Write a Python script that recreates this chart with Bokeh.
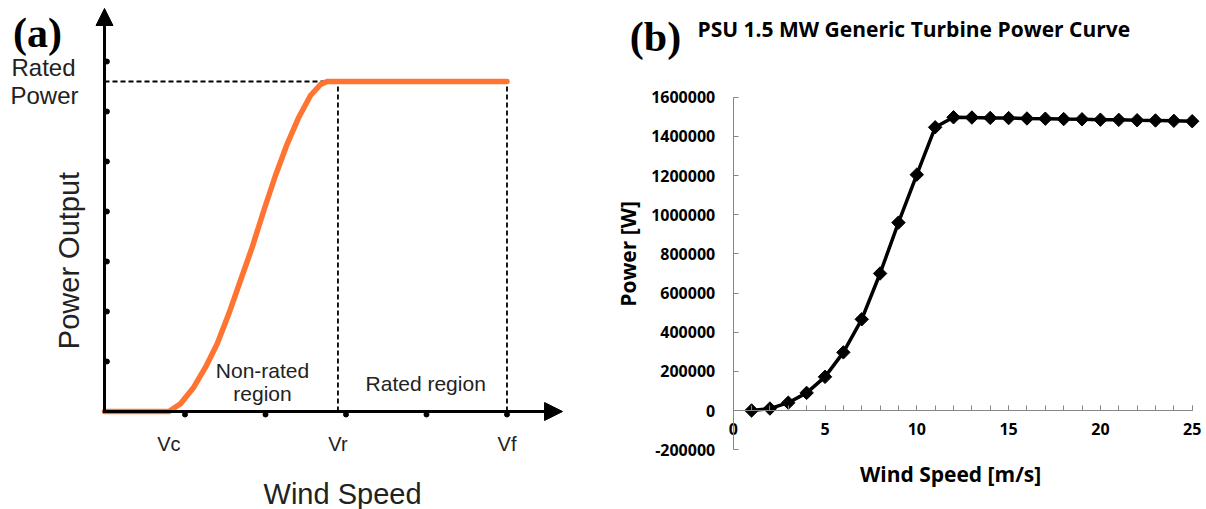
from math import pi
from bokeh.plotting import figure
from bokeh.models import (Range1d, Arrow, NormalHead, SingleIntervalTicker,
                          NumeralTickFormatter, LinearAxis)
from bokeh.core.properties import value
from bokeh.embed import file_html
from bokeh.resources import INLINE

# ---------------- Panel (a): schematic power curve ----------------
a_tick_u = [1, 2, 3, 4, 5]
a_tick_v = [1, 2, 3, 4, 5, 6, 7]
v_cut_in = 0.8
v_rated = 2.9
v_furl = 5.0
rated_power = 6.6
curve_u = [0.0, 0.8, 0.944, 1.109, 1.255, 1.400, 1.544, 1.689, 1.835, 1.979,
           2.124, 2.270, 2.414, 2.559, 2.683, 2.766, 5.0]
curve_v = [0.0, 0.0, 0.154, 0.486, 0.886, 1.354, 1.954, 2.62, 3.286, 4.02,
           4.72, 5.354, 5.886, 6.32, 6.54, 6.6, 6.6]
speed_labels = ["Vc", "Vr", "Vf"]

# ---------------- Panel (b): PSU 1.5 MW turbine ----------------
wind_speed = list(range(1, 26))
power = [0, 10000, 40000, 90000, 172000, 297000, 466000, 700000, 960000,
         1205000, 1447000, 1498000, 1497000, 1495000, 1494000, 1492000,
         1491000, 1489000, 1488000, 1486000, 1485000, 1483000, 1482000,
         1480000, 1478000]
x_ticks_b = (0, 25)
y_ticks_b = (-200000, 1600000)

ORANGE = "#FE7430"
SANS = "Liberation Sans"
BFONT = "Open Sans"
GRAY = "#868686"
W, H = 1206, 509

# panel (a) units: 80.5 px per speed unit, 50 px per power unit, origin (104, 411)
p = figure(width=W, height=H,
           x_range=Range1d(-104 / 80.5, (W - 104) / 80.5),
           y_range=Range1d((411 - H) / 50, 411 / 50),
           output_backend="svg", toolbar_location=None,
           x_axis_location=None, y_axis_location=None,
           min_border=0, min_border_left=0, min_border_right=0,
           min_border_top=0, min_border_bottom=0, outline_line_color=None)
p.grid.visible = False

# panel (b) ranges: 0..25 -> 732.7..1191.7 px ; 0 W at 410 px, 5109.3 W/px
bx_px = 18.36
by_wpp = 5109.3
p.extra_x_ranges = {"b": Range1d(-732.7 / bx_px, (W - 732.7) / bx_px)}
p.extra_y_ranges = {"b": Range1d(-(H - 410) * by_wpp, 410 * by_wpp)}

# ---- panel (a) ----
p.segment(x0=[0, v_rated, v_furl], y0=[rated_power, 0, 0],
          x1=[v_rated, v_rated, v_furl], y1=[rated_power, rated_power, rated_power],
          line_color="black", line_width=1.8, line_dash="5 3")

p.add_layout(Arrow(end=NormalHead(size=17, fill_color="black", line_color="black"),
                   x_start=0, y_start=-0.02, x_end=0, y_end=8.06,
                   line_color="black", line_width=3))
p.add_layout(Arrow(end=NormalHead(size=18, fill_color="black", line_color="black"),
                   x_start=-0.02, y_start=0, x_end=5.69, y_end=0,
                   line_color="black", line_width=3))
p.scatter(x=a_tick_u, y=[-0.06] * len(a_tick_u), size=5, color="black")
p.scatter(x=[0.03] * len(a_tick_v), y=a_tick_v, size=5, color="black")

p.line(curve_u, curve_v, line_color=ORANGE, line_width=5.5,
       line_join="round", line_cap="round")

p.text(x=[v_cut_in, v_rated, v_furl], y=[-0.64] * 3, text=speed_labels,
       text_font=value(SANS), text_font_size="20px", text_align="center",
       text_baseline="middle", text_color="#222222")
p.text(x=[1.963, 1.963, 3.99], y=[0.82, 0.36, 0.56],
       text=["Non-rated", "region", "Rated region"],
       text_font=value(SANS), text_font_size="21px", text_align="center",
       text_baseline="middle", text_color="#222222")
p.text(x=[-0.758, -0.745], y=[6.88, 6.32], text=["Rated", "Power"],
       text_font=value(SANS), text_font_size="24px", text_align="center",
       text_baseline="middle", text_color="#222222")
p.text(x=[2.957], y=[-1.64], text=["Wind Speed"],
       text_font=value(SANS), text_font_size="29px", text_align="center",
       text_baseline="middle", text_color="#222222")
p.text(x=[-0.447], y=[3.02], text=["Power Output"], angle=pi / 2,
       text_font=value(SANS), text_font_size="29px", text_align="center",
       text_baseline="middle", text_color="#222222")
p.text(x=[-0.832], y=[7.58], text=["(a)"],
       text_font=value("Liberation Serif"), text_font_style="bold",
       text_font_size="42px", text_align="center", text_baseline="middle",
       text_color="black")

# ---- panel (b) ----
xa = LinearAxis(x_range_name="b", y_range_name="b", fixed_location=0,
                bounds=x_ticks_b,
                ticker=SingleIntervalTicker(interval=5, num_minor_ticks=5))
xa.axis_line_color = GRAY
xa.major_tick_line_color = GRAY
xa.minor_tick_line_color = GRAY
xa.major_tick_in = 5
xa.major_tick_out = 0
xa.minor_tick_in = 5
xa.minor_tick_out = 0
xa.major_label_standoff = 12
xa.major_label_text_font = BFONT
xa.major_label_text_font_style = "bold"
xa.major_label_text_font_size = "16px"
xa.major_label_text_color = "black"
p.add_layout(xa, "below")

ya = LinearAxis(x_range_name="b", y_range_name="b", fixed_location=0,
                bounds=y_ticks_b,
                ticker=SingleIntervalTicker(interval=200000, num_minor_ticks=0),
                formatter=NumeralTickFormatter(format="0"))
ya.axis_line_color = GRAY
ya.major_tick_line_color = GRAY
ya.minor_tick_line_color = None
ya.major_tick_in = 5
ya.major_tick_out = 0
ya.major_label_standoff = 18
ya.major_label_text_font = BFONT
ya.major_label_text_font_style = "bold"
ya.major_label_text_font_size = "16px"
ya.major_label_text_color = "black"
p.add_layout(ya, "left")

p.line(wind_speed, power, line_color="black", line_width=3.5,
       x_range_name="b", y_range_name="b")
p.scatter(wind_speed, power, marker="square", angle=pi / 4, size=9.5,
          color="black", x_range_name="b", y_range_name="b")

p.text(x=[-5.74], y=[800000], text=["Power [W]"], angle=pi / 2,
       text_font=value(BFONT), text_font_style="bold", text_font_size="21px",
       text_align="center", text_baseline="middle", text_color="black",
       x_range_name="b", y_range_name="b")
p.text(x=[11.84], y=[-321900], text=["Wind Speed [m/s]"],
       text_font=value(BFONT), text_font_style="bold", text_font_size="21px",
       text_align="center", text_baseline="middle", text_color="black",
       x_range_name="b", y_range_name="b")
p.text(x=[-1.944], y=[1951700], text=["PSU 1.5 MW Generic Turbine Power Curve"],
       text_font=value(BFONT), text_font_style="bold", text_font_size="21px",
       text_align="left", text_baseline="middle", text_color="black",
       x_range_name="b", y_range_name="b")
p.text(x=[-4.232], y=[1905800], text=["(b)"],
       text_font=value("Liberation Serif"), text_font_style="bold",
       text_font_size="42px", text_align="center", text_baseline="middle",
       text_color="black", x_range_name="b", y_range_name="b")

open("out.html", "w").write(file_html(p, INLINE))
